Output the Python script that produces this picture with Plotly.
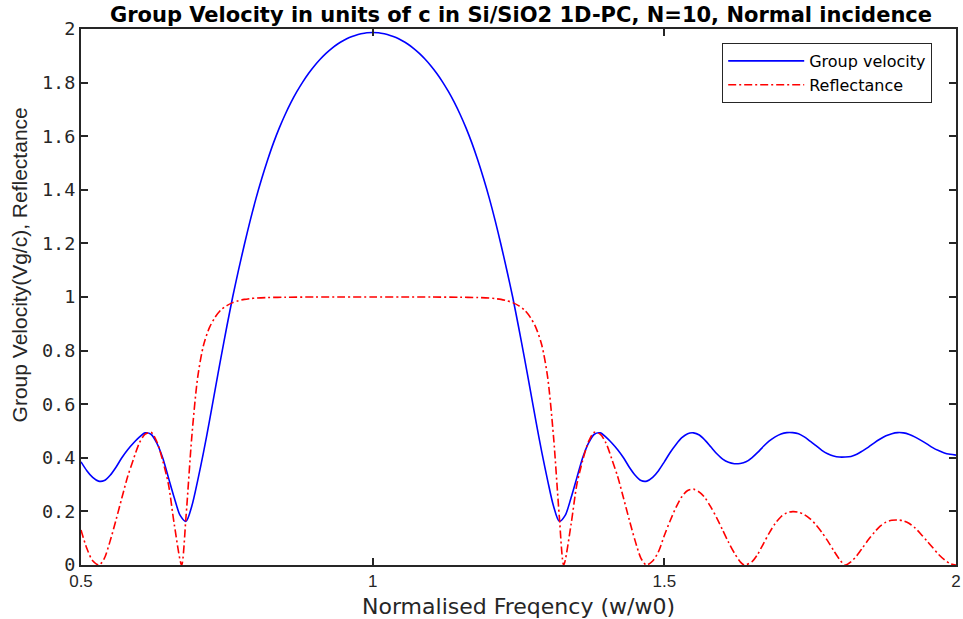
import plotly.graph_objects as go

# ---- data ----
freq = [round(0.50 + 0.01 * i, 2) for i in range(151)]

group_velocity = [
    0.385, 0.352, 0.327, 0.313, 0.315, 0.335, 0.365, 0.400, 0.430, 0.455,  # 0.50-0.59
    0.477, 0.493, 0.488, 0.455, 0.400, 0.325, 0.250, 0.185, 0.163, 0.220,  # 0.60-0.69
    0.315, 0.420, 0.535, 0.655, 0.775, 0.890, 1.000, 1.100, 1.195, 1.285,  # 0.70-0.79
    1.368, 1.443, 1.512, 1.575, 1.631, 1.681, 1.726, 1.766, 1.802, 1.834,  # 0.80-0.89
    1.862, 1.887, 1.909, 1.928, 1.944, 1.957, 1.968, 1.976, 1.982, 1.986,  # 0.90-0.99
    1.987, 1.986, 1.982, 1.976, 1.968, 1.957, 1.944, 1.928, 1.909, 1.887,  # 1.00-1.09
    1.862, 1.834, 1.802, 1.766, 1.726, 1.681, 1.631, 1.575, 1.512, 1.443,  # 1.10-1.19
    1.368, 1.285, 1.195, 1.100, 1.000, 0.890, 0.775, 0.655, 0.535, 0.420,  # 1.20-1.29
    0.315, 0.220, 0.163, 0.185, 0.250, 0.325, 0.400, 0.455, 0.488, 0.493,  # 1.30-1.39
    0.477, 0.455, 0.430, 0.400, 0.365, 0.335, 0.315, 0.313, 0.327, 0.352,  # 1.40-1.49
    0.385, 0.420, 0.450, 0.475, 0.490, 0.493, 0.485, 0.465, 0.440, 0.415,  # 1.50-1.59
    0.395, 0.383, 0.378, 0.379, 0.385, 0.400, 0.420, 0.443, 0.463, 0.478,  # 1.60-1.69
    0.489, 0.494, 0.494, 0.490, 0.478, 0.462, 0.445, 0.428, 0.415, 0.407,  # 1.70-1.79
    0.403, 0.403, 0.405, 0.413, 0.426, 0.440, 0.456, 0.470, 0.482, 0.490,  # 1.80-1.89
    0.494, 0.493, 0.487, 0.477, 0.465, 0.452, 0.438, 0.427, 0.418, 0.413,  # 1.90-1.99
    0.410,                                                                 # 2.00
]

refl_freq = [
    0.50, 0.51, 0.52, 0.531, 0.54, 0.55, 0.56, 0.57, 0.58, 0.59,
    0.60, 0.61, 0.62, 0.63, 0.64, 0.65, 0.66, 0.6725, 0.68, 0.69,
    0.70, 0.71, 0.72, 0.73, 0.74, 0.75, 0.76, 0.77, 0.78, 0.79,
    0.80, 0.82, 0.85, 0.90, 0.95, 1.00, 1.05, 1.10, 1.15, 1.18,
    1.20, 1.21, 1.22, 1.23, 1.24, 1.25, 1.26, 1.27, 1.28, 1.29,
    1.30, 1.31, 1.32, 1.3275, 1.34, 1.35, 1.36, 1.37, 1.38, 1.39,
    1.40, 1.41, 1.42, 1.43, 1.44, 1.45, 1.46, 1.469, 1.48, 1.49,
    1.50, 1.51, 1.52, 1.53, 1.54, 1.55, 1.56, 1.57, 1.58, 1.59,
    1.60, 1.61, 1.62, 1.63, 1.637, 1.65, 1.66, 1.67, 1.68, 1.69,
    1.70, 1.71, 1.72, 1.73, 1.74, 1.75, 1.76, 1.77, 1.78, 1.79,
    1.80, 1.81, 1.82, 1.83, 1.84, 1.85, 1.86, 1.87, 1.88, 1.89,
    1.90, 1.91, 1.92, 1.93, 1.94, 1.95, 1.96, 1.97, 1.98, 1.99,
    2.00,
]

reflectance = [
    0.131, 0.062, 0.016, 0.000, 0.025, 0.090, 0.168, 0.250, 0.330, 0.395,
    0.455, 0.488, 0.495, 0.460, 0.390, 0.300, 0.150, 0.000, 0.180, 0.480,
    0.700, 0.820, 0.885, 0.925, 0.952, 0.968, 0.979, 0.986, 0.991, 0.994,
    0.996, 0.998, 0.999, 1.000, 1.000, 1.000, 1.000, 1.000, 0.999, 0.998,
    0.996, 0.994, 0.991, 0.986, 0.979, 0.968, 0.952, 0.925, 0.885, 0.820,
    0.700, 0.480, 0.180, 0.000, 0.150, 0.300, 0.390, 0.460, 0.495, 0.488,
    0.455, 0.395, 0.330, 0.250, 0.168, 0.090, 0.025, 0.000, 0.015, 0.050,
    0.110, 0.165, 0.215, 0.255, 0.278, 0.283, 0.272, 0.250, 0.215, 0.175,
    0.130, 0.085, 0.045, 0.012, 0.000, 0.012, 0.040, 0.080, 0.120, 0.155,
    0.180, 0.195, 0.199, 0.197, 0.188, 0.172, 0.150, 0.122, 0.090, 0.055,
    0.022, 0.000, 0.012, 0.035, 0.065, 0.095, 0.122, 0.145, 0.160, 0.167,
    0.168, 0.165, 0.155, 0.138, 0.115, 0.090, 0.065, 0.040, 0.020, 0.005,
    0.000,
]

x_ticks = [0.5, 1, 1.5, 2]
x_tick_text = ["0.5", "1", "1.5", "2"]
y_ticks = [0, 0.2, 0.4, 0.6, 0.8, 1, 1.2, 1.4, 1.6, 1.8, 2]
y_tick_text = ["0", "0.2", "0.4", "0.6", "0.8", "1", "1.2", "1.4", "1.6", "1.8", "2"]

title_text = "Group Velocity in units of c in Si/SiO2 1D-PC, N=10, Normal incidence"
x_title = "Normalised Freqency (w/w0)"
y_title = "Group Velocity(Vg/c), Reflectance"

NARROW = "Liberation Sans, Arial, sans-serif"
WIDE = "DejaVu Sans, Verdana, sans-serif"
MONO = "DejaVu Sans Mono, monospace"
AX = "#262626"

fig = go.Figure()
fig.add_trace(go.Scatter(
    x=freq, y=group_velocity, mode="lines", name="Group velocity",
    line=dict(color="#0000ff", width=1.6, shape="spline", smoothing=0.8),
))
fig.add_trace(go.Scatter(
    x=refl_freq, y=reflectance, mode="lines", name="Reflectance",
    line=dict(color="#ff0000", width=1.6, dash="8px,3px,2px,3px",
              shape="spline", smoothing=0.8),
))

fig.update_layout(
    width=963, height=619,
    margin=dict(l=81, r=2, t=29, b=54),
    paper_bgcolor="white", plot_bgcolor="white",
    title=dict(text="<b>" + title_text + "</b>", x=0.541, xanchor="center",
               xref="container", y=0.976, yanchor="middle",
               font=dict(family=WIDE, size=21, color="black")),
    showlegend=True,
    legend=dict(x=0.9728, xanchor="right", y=0.9739, yanchor="top",
                bgcolor="white", bordercolor=AX, borderwidth=1,
                font=dict(family=WIDE, size=16, color="black"),
                itemwidth=76, tracegroupgap=0),
    xaxis=dict(range=[0.5, 2], tickvals=x_ticks, ticktext=x_tick_text,
               showgrid=False, zeroline=False, showline=True, linecolor=AX,
               linewidth=2, mirror="ticks", ticks="inside", ticklen=7,
               tickwidth=1.5, tickcolor=AX, ticklabeloverflow="allow",
               tickfont=dict(family=NARROW, size=17, color=AX),
               title=dict(text=x_title, standoff=10,
                          font=dict(family=WIDE, size=22, color=AX))),
    yaxis=dict(range=[0, 2], tickvals=y_ticks, ticktext=y_tick_text,
               showgrid=False, zeroline=False, showline=True, linecolor=AX,
               linewidth=2, mirror="ticks", ticks="inside", ticklen=7,
               tickwidth=1.5, tickcolor=AX,
               tickfont=dict(family=MONO, size=18.5, color=AX)),
    annotations=[dict(text=y_title, textangle=-90, showarrow=False,
                      xref="paper", yref="paper", x=-0.0704, y=0.5597,
                      xanchor="center", yanchor="middle",
                      font=dict(family=NARROW, size=21, color=AX))],
)

fig.write_html("out.html")
